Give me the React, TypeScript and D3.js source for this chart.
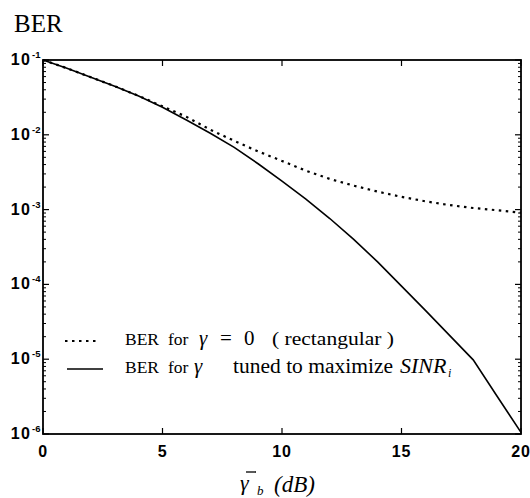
import React from "react";
import * as d3 from "d3";

// Eb/N0 average (dB)
const snrDb = [0, 1, 2, 3, 4, 5, 6, 7, 8, 9, 10, 11, 12, 13, 14, 15, 16, 17, 18, 19, 20];
// BER for gamma = 0 (rectangular) – dotted
const berRect = [
  0.1, 0.0776, 0.0589, 0.0447, 0.0331, 0.024, 0.0174, 0.0117, 0.0083, 0.006, 0.00447,
  0.00331, 0.00257, 0.00209, 0.00174, 0.00148, 0.00129, 0.00115, 0.00105, 0.00098, 0.00091,
];
// BER for gamma tuned to maximize SINR_i – solid
const berTuned = [
  0.1, 0.0776, 0.0589, 0.0447, 0.0331, 0.0234, 0.0158, 0.0105, 0.0068, 0.0041, 0.0024,
  0.00138, 0.00076, 0.0004, 0.0002, 0.000095, 0.000045, 0.000021, 0.0000098, 0.0000032, 0.00000105,
];
const xTicks = [0, 5, 10, 15, 20];
const yTickExps = [-1, -2, -3, -4, -5, -6];

const W = 530;
const H = 498;
const L = 43, R = 521, T = 60, B = 434;

const SANS = "'Liberation Sans', Arial, sans-serif";
const SERIF = "'Liberation Serif', 'Times New Roman', serif";

export default function App() {
  const x = d3.scaleLinear().domain([0, 20]).range([L, R]);
  const y = d3.scaleLog().domain([1e-6, 1e-1]).range([B, T]);

  const line = d3
    .line<number>()
    .x((_, i) => x(snrDb[i]))
    .y((d) => y(d));

  const minorTicks: number[] = [];
  for (let e = -6; e < -1; e++) {
    for (let m = 2; m <= 9; m++) minorTicks.push(m * Math.pow(10, e));
  }

  return (
    <svg
      width={W}
      height={H}
      style={{ position: "absolute", left: 0, top: 0, background: "#fff" }}
    >
      <rect x={0} y={0} width={W} height={H} fill="#fff" />
      {/* title */}
      <text x={14} y={32} fontFamily={SERIF} fontSize={25} fill="#000">
        BER
      </text>

      {/* curves */}
      <path d={line(berTuned) || ""} fill="none" stroke="#000" strokeWidth={1.6} />
      <path
        d={line(berRect) || ""}
        fill="none"
        stroke="#000"
        strokeWidth={2.2}
        strokeDasharray="2.5,4.5"
      />

      {/* axes box */}
      <rect x={L} y={T} width={R - L} height={B - T} fill="none" stroke="#000" strokeWidth={1.8} />

      {/* y ticks */}
      {yTickExps.map((e) => {
        const yy = y(Math.pow(10, e));
        return (
          <g key={"y" + e}>
            <line x1={L} x2={L + 6} y1={yy} y2={yy} stroke="#000" strokeWidth={1.2} />
            <line x1={R} x2={R - 6} y1={yy} y2={yy} stroke="#000" strokeWidth={1.2} />
            <text
              x={31}
              y={yy + 5}
              textAnchor="end"
              fontFamily={SANS}
              fontWeight="bold"
              fontSize={16}
              letterSpacing={1.2}
              fill="#000"
            >
              10
            </text>
            <text x={32} y={yy - 2} fontFamily={SANS} fontWeight="bold" fontSize={9.5} fill="#000">
              {String(e)}
            </text>
          </g>
        );
      })}
      {minorTicks.map((v, i) => {
        const yy = y(v);
        return (
          <g key={"m" + i}>
            <line x1={L} x2={L + 3} y1={yy} y2={yy} stroke="#000" strokeWidth={1} />
            <line x1={R} x2={R - 3} y1={yy} y2={yy} stroke="#000" strokeWidth={1} />
          </g>
        );
      })}

      {/* x ticks */}
      {xTicks.map((t) => {
        const xx = x(t);
        return (
          <g key={"x" + t}>
            <line x1={xx} x2={xx} y1={B} y2={B - 6} stroke="#000" strokeWidth={1.2} />
            <line x1={xx} x2={xx} y1={T} y2={T + 6} stroke="#000" strokeWidth={1.2} />
            <text
              x={xx}
              y={457}
              textAnchor="middle"
              fontFamily={SANS}
              fontWeight="bold"
              fontSize={16}
              letterSpacing={0.8}
              fill="#000"
            >
              {String(t)}
            </text>
          </g>
        );
      })}

      {/* x-axis label */}
      <text x={240} y={490} fontFamily={SERIF} fontStyle="italic" fontSize={22} fill="#000">
        γ
      </text>
      <line x1={246} x2={256} y1={472} y2={472} stroke="#000" strokeWidth={1.3} />
      <text x={257} y={495} fontFamily={SERIF} fontStyle="italic" fontSize={13} fill="#000">
        b
      </text>
      <text x={274} y={492} fontFamily={SERIF} fontStyle="italic" fontSize={23} fill="#000">
        (dB)
      </text>

      {/* legend */}
      <line x1={65} x2={99} y1={341} y2={341} stroke="#000" strokeWidth={2.2} strokeDasharray="2.5,4.5" />
      <line x1={67} x2={103} y1={369} y2={369} stroke="#000" strokeWidth={1.6} />

      <g fontFamily={SERIF} fill="#000">
        <text x={125} y={345} fontSize={17.5}>BER</text>
        <text x={168} y={345} fontSize={17.5}>for</text>
        <text x={199} y={345} fontSize={21} fontStyle="italic">γ</text>
        <text x={220} y={345} fontSize={21}>=</text>
        <text x={244} y={345} fontSize={21}>0</text>
        <text x={272} y={345} fontSize={19} textLength={122} lengthAdjust="spacingAndGlyphs">( rectangular )</text>

        <text x={125} y={373} fontSize={17.5}>BER</text>
        <text x={168} y={373} fontSize={17.5}>for</text>
        <text x={194} y={373} fontSize={21} fontStyle="italic">γ</text>
        <text x={233} y={373} fontSize={20} textLength={160} lengthAdjust="spacingAndGlyphs">tuned to maximize</text>
        <text x={400} y={373} fontSize={22} fontStyle="italic">SINR</text>
        <text x={448} y={377} fontSize={12} fontStyle="italic">i</text>
      </g>
    </svg>
  );
}
